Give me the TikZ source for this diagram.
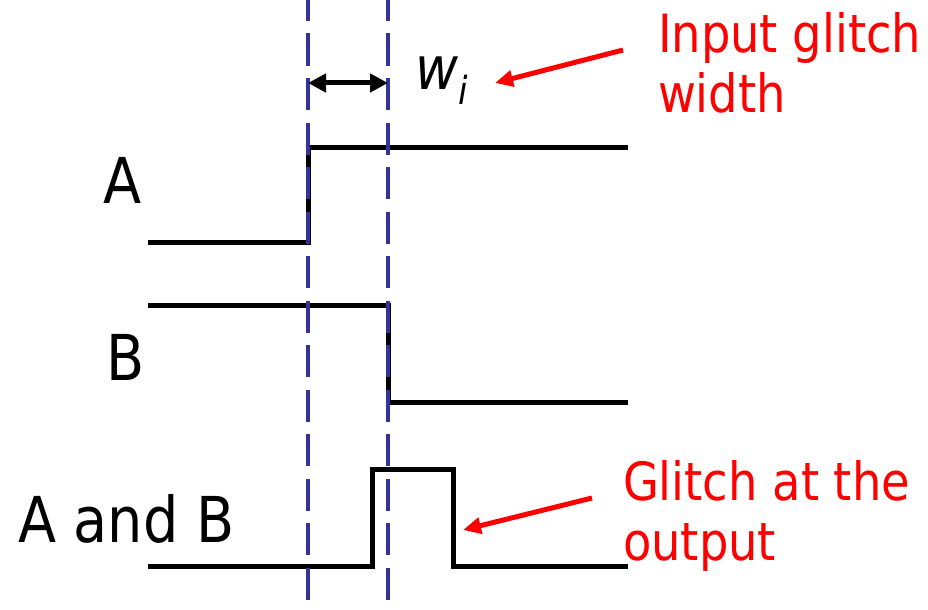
\documentclass[tikz,border=0pt]{standalone}
\usepackage{fontspec}
\setmainfont{DejaVu Sans}[FakeStretch=0.88]
\usetikzlibrary{arrows.meta}
\definecolor{ink}{HTML}{000000}
\definecolor{guide}{HTML}{333399}
\definecolor{note}{HTML}{FF0000}
\newcommand{\sigfont}{\fontsize{36}{40}\selectfont}
\newcommand{\notefont}{\fontsize{30}{34}\selectfont}
\tikzset{
 every node/.append style={inner sep=0pt,outer sep=0pt},
 wave/.style={draw=ink,line width=1mm},
 marker/.style={draw=guide,line width=.9mm,dash pattern=on 6.4mm off 2.5mm,dash phase=2.2mm},
 span/.style={{Triangle[length=3.6mm,width=3.6mm]}-{Triangle[length=3.6mm,width=3.6mm]},draw=ink,line width=1mm},
 pointer/.style={-{Triangle[length=3.6mm,width=3.2mm]},draw=note,line width=1mm},
 signame/.style={font=\sigfont,text=ink,anchor=base west},
 remark/.style={font=\notefont,text=note,anchor=base west,align=left},
}

\begin{document}
\begin{tikzpicture}[x=.2mm,y=-.2mm]
\useasboundingbox (0,0) rectangle (928,610);

% signal names
\node[signame] (sa) at (103,203) {A};
\node[signame] (sb) at (106,380) {B};
\node[signame] (sab) at (18,542) {A and B};

% waveforms
\draw[wave] (148,242) -- (308,242) -- (308,147) -- (628,147);
\draw[wave] (148,305) -- (388,305) -- (388,402) -- (628,402);
\draw[wave] (148,566) -- (372,566) -- (372,469) -- (453,469) -- (453,566) -- (628,566);

% time markers
\coordinate (rise) at (308,83);
\coordinate (fall) at (388,83);
\draw[marker] (308,0) -- (308,610);
\draw[marker] (388,0) -- (388,610);
\draw[span] (rise) -- (fall);
\node[anchor=base west,font=\fontsize{34}{38}\selectfont\itshape] (wi) at (415,90)
  {w\raisebox{-3mm}{\fontsize{22}{24}\selectfont i}};

% notes
\node[remark] (inlab) at (658,112) {Input glitch\\width};
\node[remark] (outlab) at (623,560) {Glitch at the\\output};
\coordinate (witip) at (495,83);
\coordinate (pulsetip) at (463,530);
\draw[pointer] ([xshift=-7mm,yshift=12.4mm]inlab.base west) -- (witip);
\draw[pointer] ([xshift=-6.2mm,yshift=12.4mm]outlab.base west) -- (pulsetip);

\end{tikzpicture}
\end{document}
